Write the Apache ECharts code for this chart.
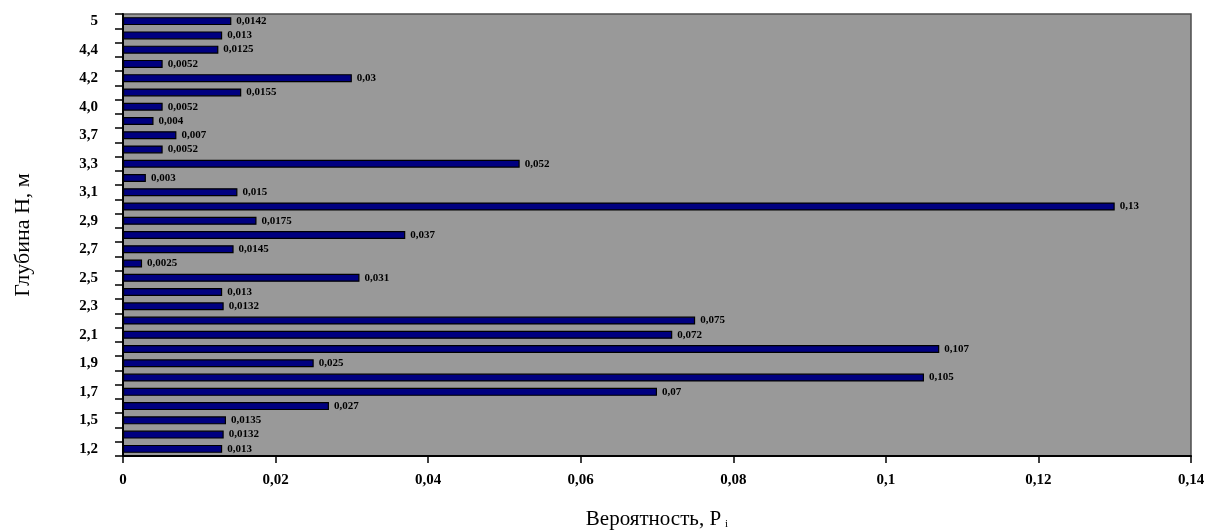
<!DOCTYPE html>
<html><head><meta charset="utf-8">
<script src="https://cdn.jsdelivr.net/npm/echarts@6/dist/echarts.min.js"></script>
<style>html,body{margin:0;padding:0;background:#fff}#c{width:1212px;height:531px}</style>
</head><body><div id="c"></div>
<script>
const depths = ['1,2','1,4','1,5','1,6','1,7','1,8','1,9','2,0','2,1','2,2','2,3','2,4','2,5','2,6','2,7','2,8','2,9','3,0','3,1','3,2','3,3','3,5','3,7','3,9','4,0','4,1','4,2','4,3','4,4','4,7','5'];
const probabilities = [0.013,0.0132,0.0135,0.027,0.07,0.105,0.025,0.107,0.072,0.075,0.0132,0.013,0.031,0.0025,0.0145,0.037,0.0175,0.13,0.015,0.003,0.052,0.0052,0.007,0.004,0.0052,0.0155,0.03,0.0052,0.0125,0.013,0.0142];
const xTicks = [0,0.02,0.04,0.06,0.08,0.1,0.12,0.14];
const yTitle = 'Глубина Н, м';
const xTitle = 'Вероятность, Р';

const comma = v => String(v).replace('.', ',');
const serif = '"Liberation Serif","DejaVu Serif",serif';
const chart = echarts.init(document.getElementById('c'), null, {renderer:'canvas'});
chart.setOption({
  animation:false,
  backgroundColor:'#ffffff',
  grid:{left:123,right:21,top:14,bottom:75,containLabel:false,outerBoundsMode:'none',show:true,backgroundColor:'#999999',borderColor:'#4d4d4d',borderWidth:1.5},
  xAxis:{
    type:'value', min:xTicks[0], max:xTicks[xTicks.length-1], interval:0.02,
    splitLine:{show:false},
    axisLine:{show:true,lineStyle:{color:'#000',width:2}},
    axisTick:{show:true,length:7,lineStyle:{color:'#000',width:1.5}},
    axisLabel:{margin:17,fontFamily:serif,fontWeight:'bold',fontSize:15,color:'#000',formatter:v=>comma(+v.toFixed(2))},
    name:xTitle+'{sub|i}', nameLocation:'middle', nameGap:53,
    nameTextStyle:{fontFamily:serif,fontSize:21,color:'#000',rich:{sub:{fontFamily:serif,fontSize:11,color:'#000',verticalAlign:'bottom',padding:[10,0,0,4]}}}
  },
  yAxis:{
    type:'category', data:depths,
    axisLine:{show:true,lineStyle:{color:'#000',width:2}},
    axisTick:{show:true,length:8,interval:0,lineStyle:{color:'#000',width:1.5}},
    axisLabel:{interval:1,margin:25,fontFamily:serif,fontWeight:'bold',fontSize:15,color:'#000'},
    name:yTitle, nameLocation:'middle', nameGap:89, nameRotate:90,
    nameTextStyle:{fontFamily:serif,fontSize:22,color:'#000'}
  },
  series:[{
    type:'bar', data:probabilities, barCategoryGap:'44%',
    itemStyle:{color:'#000080',borderColor:'#000',borderWidth:1.2},
    label:{show:true,position:'right',distance:5,fontFamily:serif,fontWeight:'bold',fontSize:11,color:'#000',formatter:p=>comma(p.value)}
  }]
});
</script></body></html>
